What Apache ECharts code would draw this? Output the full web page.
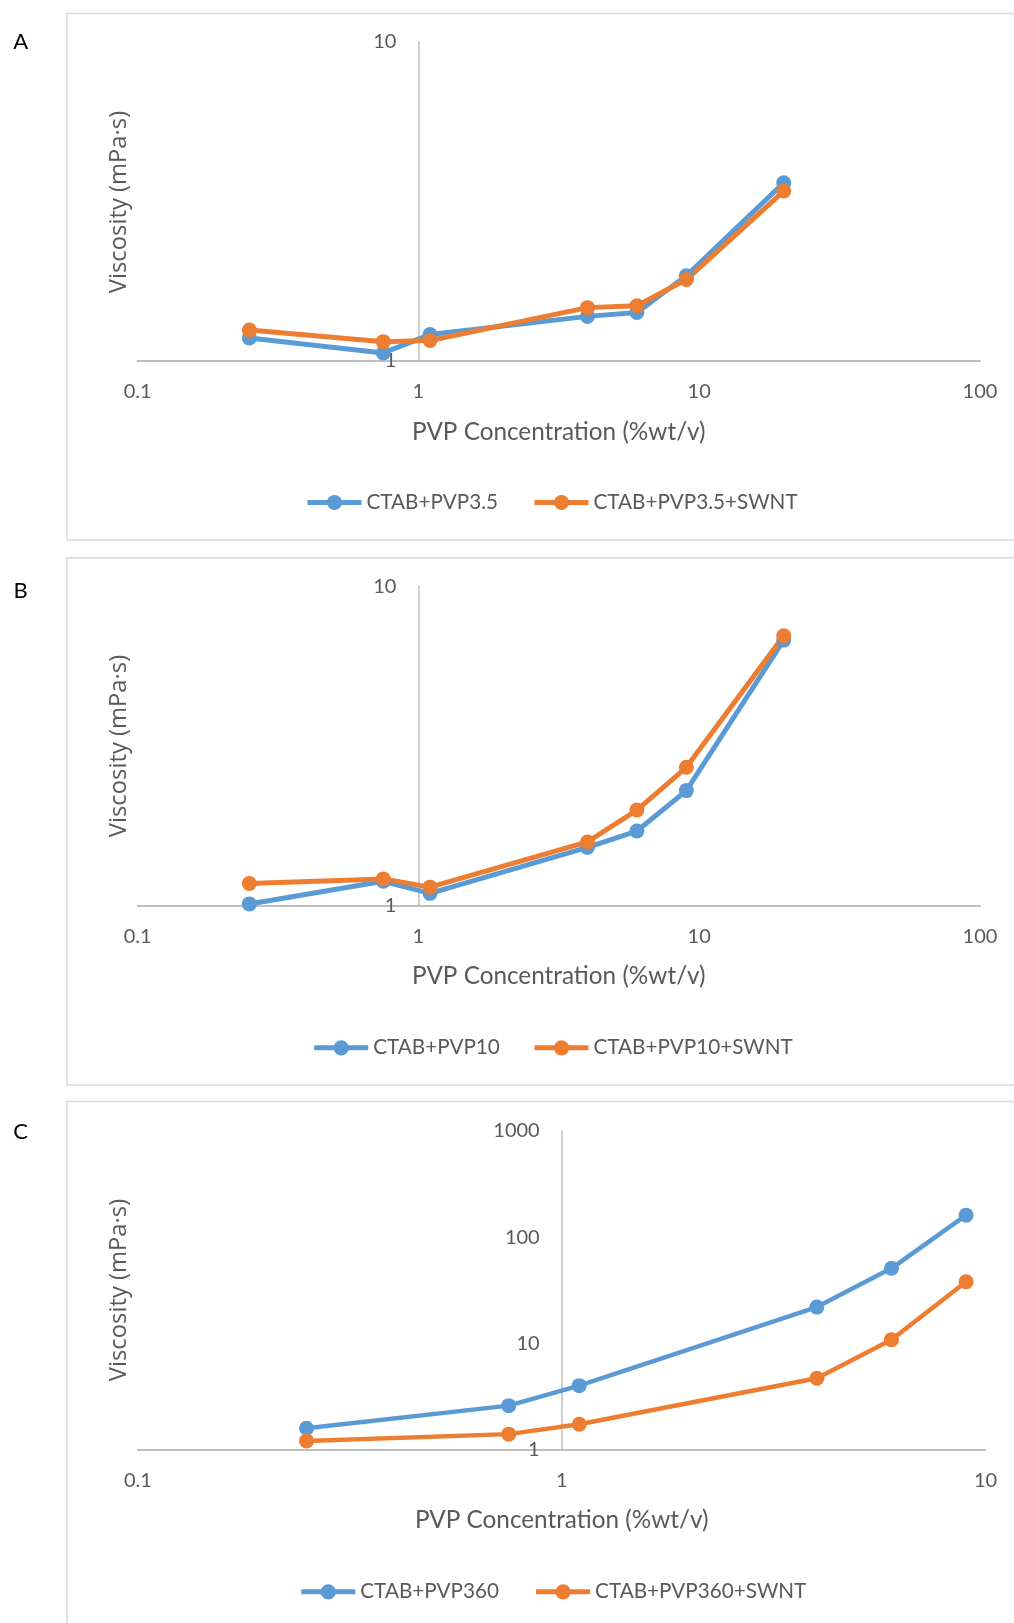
<!DOCTYPE html>
<html>
<head>
<meta charset="utf-8">
<script src="https://cdn.jsdelivr.net/npm/echarts@6/dist/echarts.min.js"></script>
<style>
html,body{margin:0;padding:0;background:#fff;}
#chart{width:1014px;height:1623px;}
</style>
</head>
<body>
<div id="chart"></div>
<script>
// ---- data ----
const concA = [0.25, 0.75, 1.1, 4, 6, 9, 20];
const viscA_PVP35 = [1.18, 1.06, 1.21, 1.38, 1.42, 1.85, 3.62];
const viscA_PVP35_SWNT = [1.25, 1.15, 1.16, 1.47, 1.49, 1.80, 3.41];

const concB = [0.25, 0.75, 1.1, 4, 6, 9, 20];
const viscB_PVP10 = [1.01, 1.19, 1.09, 1.52, 1.71, 2.29, 6.79];
const viscB_PVP10_SWNT = [1.17, 1.21, 1.14, 1.58, 1.99, 2.71, 7.01];

const concC = [0.25, 0.75, 1.1, 4, 6, 9];
const viscC_PVP360 = [1.58, 2.58, 3.98, 21.9, 50.8, 161];
const viscC_PVP360_SWNT = [1.20, 1.39, 1.72, 4.67, 10.8, 38.0];

const panelLabels = ['A', 'B', 'C'];
const seriesNames = [
  ['CTAB+PVP3.5', 'CTAB+PVP3.5+SWNT'],
  ['CTAB+PVP10', 'CTAB+PVP10+SWNT'],
  ['CTAB+PVP360', 'CTAB+PVP360+SWNT']
];
const xTitle = 'PVP Concentration (%wt/v)';
const yTitle = 'Viscosity (mPa\u00B7s)';

// ---- layout ----
const BLUE = '#5B9BD5', ORANGE = '#ED7D31', TXT = '#595959', AX = '#BFBFBF';
const FONT = 'Lato';
const panels = [
  {conc: concA, s1: viscA_PVP35, s2: viscA_PVP35_SWNT, xMax: 100, yMax: 10,
   gl: 137.6, gr: 980, gt: 42, gb: 361, box: [67, 13.5, 540], lab: 42.4,
   yTitleY: 202, xTitleY: 432.5, legY: 501, leg1: 305, leg2: 532, lw: 5},
  {conc: concB, s1: viscB_PVP10, s2: viscB_PVP10_SWNT, xMax: 100, yMax: 10,
   gl: 137.6, gr: 980, gt: 586.5, gb: 905.3, box: [67, 557.7, 1085], lab: 591.4,
   yTitleY: 746, xTitleY: 976.5, legY: 1046.3, leg1: 311.7, leg2: 532, lw: 5},
  {conc: concC, s1: viscC_PVP360, s2: viscC_PVP360_SWNT, xMax: 10, yMax: 1000,
   gl: 137.9, gr: 985.5, gt: 1131, gb: 1449.3, box: [67, 1101.6, 1700], lab: 1131.5,
   yTitleY: 1290, xTitleY: 1520, legY: 1590.3, leg1: 298.8, leg2: 533.6, lw: 4.5}
];

const fmt = v => String(+(+v).toPrecision(6));
const option = {
  animation: false,
  backgroundColor: '#fff',
  grid: [], xAxis: [], yAxis: [], series: [], legend: [], graphic: []
};

panels.forEach((p, i) => {
  option.grid.push({left: p.gl, width: p.gr - p.gl, top: p.gt, height: p.gb - p.gt});
  // x position of value 1 on the log x axis
  const decades = Math.log10(p.xMax) - Math.log10(0.1);
  const x1 = p.gl + (p.gr - p.gl) * (1 / decades);
  option.xAxis.push({
    type: 'log', logBase: 10, min: 0.1, max: p.xMax, gridIndex: i,
    axisLine: {show: true, lineStyle: {color: AX, width: 2}},
    axisTick: {show: false}, splitLine: {show: false},
    axisLabel: {color: TXT, fontFamily: FONT, fontSize: 20, margin: 21, formatter: fmt}
  });
  option.yAxis.push({
    type: 'log', logBase: 10, min: 1, max: p.yMax, gridIndex: i,
    position: 'left', offset: -(x1 - p.gl),
    axisLine: {show: true, lineStyle: {color: AX, width: 1.5}},
    axisTick: {show: false}, splitLine: {show: false},
    axisLabel: {color: TXT, fontFamily: FONT, fontSize: 20, margin: 22, formatter: fmt}
  });
  const mk = (name, xs, ys, color) => ({
    name, type: 'line', xAxisIndex: i, yAxisIndex: i,
    data: xs.map((x, k) => [x, ys[k]]),
    symbol: 'circle', symbolSize: 15, showAllSymbol: true,
    lineStyle: {color, width: p.lw}, itemStyle: {color},
    emphasis: {disabled: true}
  });
  option.series.push(mk(seriesNames[i][0], p.conc, p.s1, BLUE));
  option.series.push(mk(seriesNames[i][1], p.conc, p.s2, ORANGE));
  [[seriesNames[i][0], p.leg1], [seriesNames[i][1], p.leg2]].forEach(([nm, lx]) => {
    option.legend.push({
      data: [nm], left: lx, top: p.legY - 9, padding: 0,
      itemWidth: 54, itemHeight: 19, itemGap: 0,
      lineStyle: {width: 5},
      itemStyle: {borderWidth: 0},
      textStyle: {color: TXT, fontFamily: FONT, fontSize: 20.7, padding: [0, 0, 0, 0]}
    });
  });
  option.graphic.push({
    type: 'rect', silent: true, z: -10,
    shape: {x: p.box[0], y: p.box[1], width: 1100, height: p.box[2] - p.box[1]},
    style: {fill: 'none', stroke: '#D9D9D9', lineWidth: 1.5}
  });
  option.graphic.push({
    type: 'text', x: 20.7, y: p.lab,
    style: {text: panelLabels[i], fill: '#000', font: '22px ' + FONT, textAlign: 'center', textVerticalAlign: 'middle'}
  });
  option.graphic.push({
    type: 'text', x: (p.gl + p.gr) / 2, y: p.xTitleY,
    style: {text: xTitle, fill: TXT, font: '24.3px ' + FONT, textAlign: 'center', textVerticalAlign: 'middle'}
  });
  option.graphic.push({
    type: 'text', x: 119.5, y: p.yTitleY, rotation: Math.PI / 2,
    style: {text: yTitle, fill: TXT, font: '23.8px "Open Sans"', textAlign: 'center', textVerticalAlign: 'middle'}
  });
});

const chart = echarts.init(document.getElementById('chart'), null, {renderer: 'canvas'});
chart.setOption(option);
</script>
</body>
</html>
